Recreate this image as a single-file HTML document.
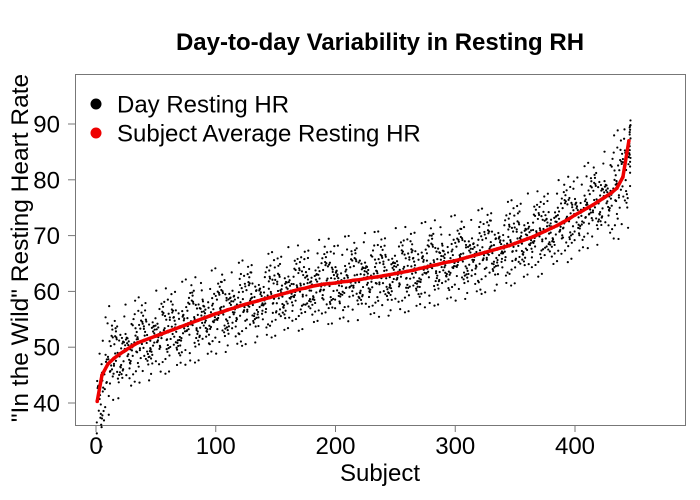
<!DOCTYPE html>
<html><head><meta charset="utf-8"><style>
body{margin:0;background:#fff}
svg{display:block;font-family:"Liberation Sans",Arial,sans-serif}
</style></head><body>
<svg id="chart" width="700" height="500" viewBox="0 0 700 500">
<text x="380" y="50" text-anchor="middle" font-size="24" font-weight="bold">Day-to-day Variability in Resting RH</text>
<rect x="75.5" y="74.5" width="610" height="351" fill="none" stroke="#777" stroke-width="1"/>
<g id="xaxis"></g>
<g id="yaxis"></g>
<g id="pts"></g>
<g id="avg"></g>
<text x="380" y="481" text-anchor="middle" font-size="24">Subject</text>
<text transform="translate(28,248) rotate(-90)" text-anchor="middle" font-size="24.5">"In the Wild" Resting Heart Rate</text>
<g>
<circle cx="96" cy="104" r="5.5" fill="#000"/>
<text x="117" y="112.5" font-size="24">Day Resting HR</text>
<circle cx="96" cy="133" r="5.5" fill="#e00"/>
<text x="117" y="141.5" font-size="24">Subject Average Resting HR</text>
</g>
</svg>
<script>
const subjects=[1,5,10,15,20,25,30,35,40,45,50,55,60,65,70,75,80,85,90,95,100,105,110,115,120,125,130,135,140,145,150,155,160,165,170,175,180,185,190,195,200,205,210,215,220,225,230,235,240,245,250,255,260,265,270,275,280,285,290,295,300,305,310,315,320,325,330,335,340,345,350,355,360,365,370,375,380,385,390,395,400,405,410,415,420,425,430,435,440,445];
const avgHR=[40.3,45,47,48,48.8,49.5,50.2,50.8,51.2,51.6,52,52.4,52.8,53.2,53.6,54,54.4,54.8,55.2,55.6,56,56.3,56.7,57,57.4,57.7,58,58.3,58.6,58.9,59.2,59.5,59.8,60.1,60.4,60.6,60.9,61.1,61.3,61.4,61.5,61.7,61.8,62,62.1,62.3,62.5,62.6,62.8,63,63.2,63.4,63.6,63.8,64.1,64.3,64.6,64.8,65.1,65.3,65.5,65.8,66.1,66.4,66.7,67,67.3,67.6,67.9,68.2,68.6,69,69.4,69.8,70.3,70.8,71.3,71.8,72.4,73,73.7,74.3,74.9,75.5,76.2,76.9,77.6,78.5,80.5,87];
const dayOffsets=[-4.1,2.3,0.8,-1.6,5.2,-2.7,1.1,3.6,-0.4,-5.8,2.9,-1.2,0.3,4.4,-3.3,1.7,-0.9,6.1,-2.1,0.6,-3.9,2.0,-0.2,3.1,-1.8,7.4,-2.5,1.4,-4.6,0.9,2.6,-1.0,4.9,-3.0,0.1,-6.5,1.9,-0.7,3.4,-2.2];
const xTicks=[0,100,200,300,400];
const yTicks=[40,50,60,70,80,90];
const NS='http://www.w3.org/2000/svg';
const X=v=>96+v*1.1975, Y=v=>403-(v-40)*5.58;
function mk(t,a,p){const e=document.createElementNS(NS,t);for(const k in a)e.setAttribute(k,a[k]);p.appendChild(e);return e;}
const xa=document.getElementById('xaxis'),ya=document.getElementById('yaxis');
for(const t of xTicks){
  const l=mk('line',{x1:X(t),x2:X(t),y1:425,y2:432,stroke:'#777'},xa);
  
  
  const s=mk('text',{x:X(t),y:454,'text-anchor':'middle','font-size':24},xa);s.textContent=t;
  
  
}
for(const t of yTicks){
  const l=mk('line',{x1:68,x2:75,y1:Y(t),y2:Y(t),stroke:'#777'},ya);
  
  
  const s=mk('text',{x:60,y:Y(t)+8.5,'text-anchor':'end','font-size':24},ya);s.textContent=t;
  
  
}
const pg=document.getElementById('pts');
subjects.forEach((s,k)=>{
  for(let j=0;j<20;j++){
    const sub=Math.min(446,s+((j*3+k)%5));
    const scale=(k<3||k>85)?1.4:1.1;
    const v=avgHR[k]+dayOffsets[(k*13+j*3)%40]*scale;
    const c=mk('circle',{cx:X(sub)+((j*7)%3-1)*0.4,cy:Y(v),r:1.1,fill:'#000'},pg);
    
    
  }
});
const ag=document.getElementById('avg');
const pl=mk('polyline',{points:subjects.map((s,k)=>X(s)+','+Y(avgHR[k])).join(' '),fill:'none',stroke:'#e00','stroke-width':3.5},ag);


subjects.forEach((s,k)=>{
  const c=mk('circle',{cx:X(s),cy:Y(avgHR[k]),r:1.8,fill:'#e00'},ag);
  
  
});
</script>
</body></html>
